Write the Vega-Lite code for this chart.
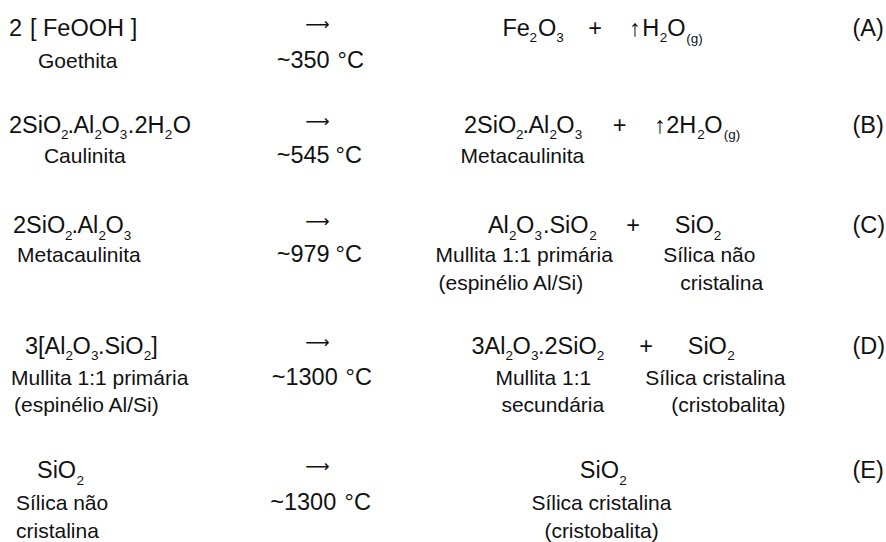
{
  "$schema": "https://vega.github.io/schema/vega-lite/v6.json",
  "width": 886,
  "height": 542,
  "autosize": {"type": "fit", "contains": "padding"},
  "padding": 0,
  "background": "white",
  "config": {"view": {"stroke": null}},
  "data": {"values": [
    {"t":"2","x":9,"y":36,"r":"f"},
    {"t":"[","x":30,"y":36,"r":"f"},
    {"t":"FeOOH","x":43,"y":36,"r":"f"},
    {"t":"]","x":131,"y":36,"r":"f"},
    {"t":"⟶","x":305.5,"y":30,"r":"a"},
    {"t":"Fe","x":503,"y":36,"r":"f"},
    {"t":"2","x":530,"y":42.5,"r":"s"},
    {"t":"O","x":538.5,"y":36,"r":"f"},
    {"t":"3","x":557,"y":42.5,"r":"s"},
    {"t":"+","x":589,"y":36,"r":"f"},
    {"t":"↑","x":630,"y":36,"r":"f"},
    {"t":"H","x":643,"y":36,"r":"f"},
    {"t":"2","x":660.5,"y":42.5,"r":"s"},
    {"t":"O","x":668,"y":36,"r":"f"},
    {"t":"(g)","x":687,"y":43,"r":"s"},
    {"t":"(A)","x":853.5,"y":36,"r":"f"},
    {"t":"Goethita","x":38,"y":68,"r":"l"},
    {"t":"~350","x":277,"y":68,"r":"f"},
    {"t":"°C","x":338,"y":68,"r":"f"},

    {"t":"2SiO","x":9,"y":133,"r":"f"},
    {"t":"2","x":61,"y":139.5,"r":"s"},
    {"t":".","x":67.5,"y":133,"r":"f"},
    {"t":"Al","x":73.5,"y":133,"r":"f"},
    {"t":"2","x":94.5,"y":139.5,"r":"s"},
    {"t":"O","x":101.5,"y":133,"r":"f"},
    {"t":"3","x":120,"y":139.5,"r":"s"},
    {"t":".2H","x":128,"y":133,"r":"f"},
    {"t":"2","x":165,"y":139.5,"r":"s"},
    {"t":"O","x":173,"y":133,"r":"f"},
    {"t":"⟶","x":305.5,"y":127,"r":"a"},
    {"t":"2SiO","x":464.5,"y":133,"r":"f"},
    {"t":"2","x":516.5,"y":139.5,"r":"s"},
    {"t":".","x":523,"y":133,"r":"f"},
    {"t":"Al","x":529,"y":133,"r":"f"},
    {"t":"2","x":550,"y":139.5,"r":"s"},
    {"t":"O","x":557,"y":133,"r":"f"},
    {"t":"3","x":575.5,"y":139.5,"r":"s"},
    {"t":"+","x":613.5,"y":133,"r":"f"},
    {"t":"↑","x":655,"y":133,"r":"f"},
    {"t":"2H","x":667,"y":133,"r":"f"},
    {"t":"2","x":698,"y":139.5,"r":"s"},
    {"t":"O","x":705,"y":133,"r":"f"},
    {"t":"(g)","x":724.5,"y":140,"r":"s"},
    {"t":"(B)","x":853.5,"y":133,"r":"f"},
    {"t":"Caulinita","x":44,"y":164,"r":"l"},
    {"t":"~545","x":277,"y":164,"r":"f"},
    {"t":"°C","x":336,"y":164,"r":"f"},
    {"t":"Metacaulinita","x":461,"y":164,"r":"l"},

    {"t":"2SiO","x":13,"y":234,"r":"f"},
    {"t":"2","x":65,"y":240.5,"r":"s"},
    {"t":".","x":71.5,"y":234,"r":"f"},
    {"t":"Al","x":77.5,"y":234,"r":"f"},
    {"t":"2","x":98.5,"y":240.5,"r":"s"},
    {"t":"O","x":105.5,"y":234,"r":"f"},
    {"t":"3","x":124,"y":240.5,"r":"s"},
    {"t":"⟶","x":305.5,"y":228,"r":"a"},
    {"t":"Metacaulinita","x":17,"y":263,"r":"l"},
    {"t":"~979","x":277,"y":263,"r":"f"},
    {"t":"°C","x":336,"y":263,"r":"f"},
    {"t":"Al","x":488.5,"y":234,"r":"f"},
    {"t":"2","x":509.5,"y":240.5,"r":"s"},
    {"t":"O","x":516.5,"y":234,"r":"f"},
    {"t":"3","x":535,"y":240.5,"r":"s"},
    {"t":".SiO","x":543.5,"y":234,"r":"f"},
    {"t":"2","x":590,"y":240.5,"r":"s"},
    {"t":"+","x":627,"y":234,"r":"f"},
    {"t":"SiO","x":675.5,"y":234,"r":"f"},
    {"t":"2","x":714.5,"y":240.5,"r":"s"},
    {"t":"(C)","x":853.5,"y":234,"r":"f"},
    {"t":"Mullita 1:1 primária","x":436,"y":263,"r":"l"},
    {"t":"(espinélio Al/Si)","x":439,"y":291,"r":"l"},
    {"t":"Sílica não","x":664,"y":263,"r":"l"},
    {"t":"cristalina","x":681,"y":291,"r":"l"},

    {"t":"3[Al","x":25,"y":355,"r":"f"},
    {"t":"2","x":65.5,"y":361.5,"r":"s"},
    {"t":"O","x":72.5,"y":355,"r":"f"},
    {"t":"3","x":91,"y":361.5,"r":"s"},
    {"t":".SiO","x":98,"y":355,"r":"f"},
    {"t":"2","x":144,"y":361.5,"r":"s"},
    {"t":"]","x":151.5,"y":355,"r":"f"},
    {"t":"⟶","x":305.5,"y":349,"r":"a"},
    {"t":"Mullita 1:1 primária","x":11,"y":386,"r":"l"},
    {"t":"(espinélio Al/Si)","x":14,"y":414,"r":"l"},
    {"t":"~1300","x":272,"y":386,"r":"f"},
    {"t":"°C","x":346,"y":386,"r":"f"},
    {"t":"3Al","x":472,"y":355,"r":"f"},
    {"t":"2","x":506,"y":361.5,"r":"s"},
    {"t":"O","x":513,"y":355,"r":"f"},
    {"t":"3","x":531.5,"y":361.5,"r":"s"},
    {"t":".2SiO","x":538.5,"y":355,"r":"f"},
    {"t":"2","x":597.5,"y":361.5,"r":"s"},
    {"t":"+","x":640,"y":355,"r":"f"},
    {"t":"SiO","x":688.5,"y":355,"r":"f"},
    {"t":"2","x":728,"y":361.5,"r":"s"},
    {"t":"(D)","x":853.5,"y":355,"r":"f"},
    {"t":"Mullita 1:1","x":496,"y":386,"r":"l"},
    {"t":"secundária","x":502,"y":414,"r":"l"},
    {"t":"Sílica cristalina","x":646,"y":386,"r":"l"},
    {"t":"(cristobalita)","x":672,"y":414,"r":"l"},

    {"t":"SiO","x":37,"y":480,"r":"f"},
    {"t":"2","x":76.5,"y":486.5,"r":"s"},
    {"t":"⟶","x":305.5,"y":474,"r":"a"},
    {"t":"Sílica não","x":16,"y":512,"r":"l"},
    {"t":"cristalina","x":16,"y":540,"r":"l"},
    {"t":"~1300","x":270.5,"y":512,"r":"f"},
    {"t":"°C","x":345,"y":512,"r":"f"},
    {"t":"SiO","x":580.5,"y":480,"r":"f"},
    {"t":"2","x":620,"y":486.5,"r":"s"},
    {"t":"(E)","x":853.5,"y":480,"r":"f"},
    {"t":"Sílica cristalina","x":532,"y":512,"r":"l"},
    {"t":"(cristobalita)","x":545,"y":540,"r":"l"}
  ]},
  "encoding": {
    "x": {"field": "x", "type": "quantitative", "axis": null, "scale": {"domain": [0, 886], "nice": false, "zero": false}},
    "y": {"field": "y", "type": "quantitative", "axis": null, "scale": {"domain": [0, 542], "nice": false, "zero": false, "reverse": true}},
    "text": {"field": "t", "type": "nominal"}
  },
  "layer": [
    {
      "transform": [{"filter": "datum.r !== 'a'"}],
      "mark": {"type": "text", "align": "left", "baseline": "alphabetic", "font": "Liberation Sans", "color": "#111111"},
      "encoding": {
        "size": {"field": "r", "type": "nominal", "legend": null, "scale": {"type": "ordinal", "domain": ["f", "s", "l"], "range": [23.5, 13.5, 21]}}
      }
    },
    {
      "transform": [{"filter": "datum.r === 'a'"}],
      "mark": {"type": "text", "align": "left", "baseline": "alphabetic", "font": "DejaVu Sans", "fontSize": 17, "color": "#111111"}
    }
  ]
}
